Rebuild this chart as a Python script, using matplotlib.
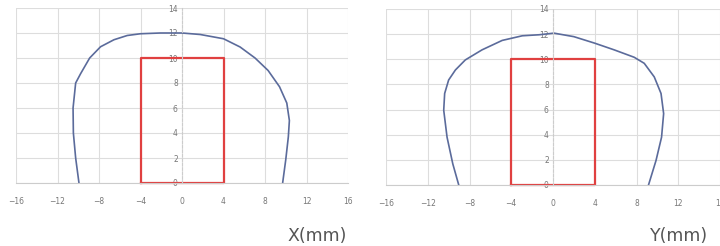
import matplotlib
matplotlib.use("Agg")
import matplotlib.pyplot as plt

# beam profile, X direction (x in mm, height in mm)
x_prof_x = [-9.93, -10.25, -10.47, -10.5, -10.25, -9.77, -8.9, -7.85, -6.56, -5.28,
            -4.0, -2.08, -1.1, 0.0, 1.76, 4.0, 5.6, 7.04, 8.3, 9.4, 10.1, 10.35,
            10.25, 10.0, 9.7]
x_prof_y = [0.0, 2.0, 4.0, 6.0, 8.0, 8.75, 10.0, 10.9, 11.46, 11.8,
            11.94, 12.0, 12.0, 12.0, 11.88, 11.54, 10.88, 10.0, 9.0, 7.7, 6.4, 5.0,
            3.7, 1.86, 0.0]

# beam profile, Y direction
y_prof_x = [-9.03, -9.6, -10.15, -10.47, -10.38, -10.0, -9.35, -8.4, -6.8, -4.87,
            -2.94, -1.34, 0.09, 2.0, 4.0, 5.86, 7.78, 8.74, 9.7, 10.35, 10.6,
            10.4, 9.87, 9.15]
y_prof_y = [0.0, 1.68, 3.8, 5.95, 7.28, 8.35, 9.15, 9.95, 10.75, 11.5,
            11.87, 11.95, 12.08, 11.8, 11.28, 10.75, 10.16, 9.68, 8.6, 7.28, 5.68,
            3.8, 1.95, 0.0]

# detection area rectangle
rect_x = [-4, -4, 4, 4, -4]
rect_y = [0, 10, 10, 0, 0]

xticks = [-16, -12, -8, -4, 0, 4, 8, 12, 16]
yticks = [0, 2, 4, 6, 8, 10, 12, 14]

fig = plt.figure(figsize=(7.2, 2.46), dpi=100)

panels = [
    (x_prof_x, x_prof_y, [16 / 720, 1 - 183 / 246, 332 / 720, 175 / 246], "X(mm)", 287),
    (y_prof_x, y_prof_y, [386 / 720, 1 - 185 / 246, 334 / 720, 176 / 246], "Y(mm)", 650),
]

for px, py, rect, label, lx in panels:
    ax = fig.add_axes(rect)
    ax.set_xlim(-16, 16)
    ax.set_ylim(0, 14)
    ax.set_xticks(xticks)
    ax.set_yticks(yticks)
    ax.grid(True, color="#dddddd", lw=0.8)
    ax.set_axisbelow(True)
    for s in ["top", "right"]:
        ax.spines[s].set_visible(False)
    ax.spines["left"].set_position(("data", 0))
    ax.spines["left"].set_color("#cccccc")
    ax.spines["left"].set_linestyle((0, (2, 2)))
    ax.spines["left"].set_linewidth(0.8)
    ax.spines["bottom"].set_color("#cccccc")
    ax.spines["bottom"].set_linewidth(0.8)
    ax.tick_params(axis="x", length=0, pad=10, labelsize=5.5, labelcolor="#777777")
    ax.tick_params(axis="y", length=0, pad=3, labelsize=5.5, labelcolor="#777777")
    ax.plot(px, py, color="#5b6b9b", lw=1.2, clip_on=False)
    ax.plot(rect_x, rect_y, color="#e04040", lw=1.6, clip_on=False)
    fig.text(lx / 720, 1 - 236 / 246, label, fontsize=12.5, color="#555555",
             va="center", ha="left")

fig.savefig("out.png", dpi=100)
